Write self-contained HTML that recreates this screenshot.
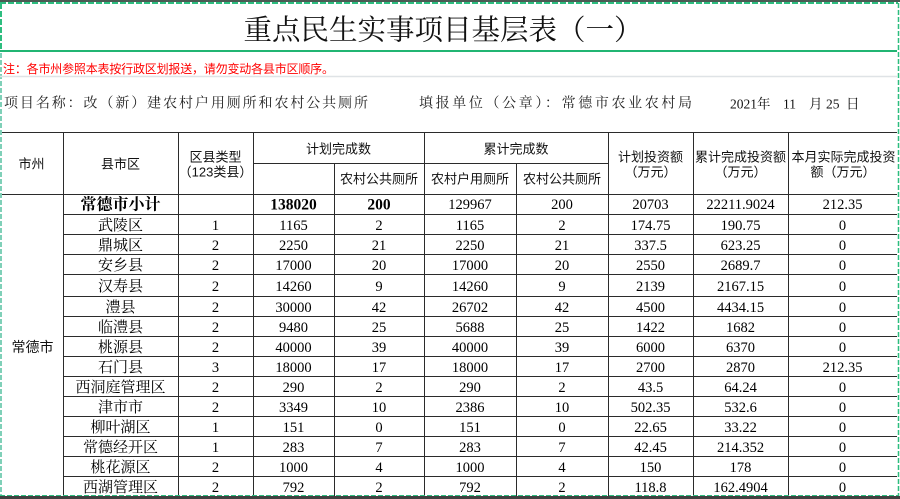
<!DOCTYPE html>
<html>
<head>
<meta charset="utf-8">
<style>
html,body{margin:0;padding:0;background:#fff;}
svg{display:block;}
.serif{font-family:"Liberation Serif","Noto Serif CJK SC",serif;}
.sans{font-family:"Liberation Sans","Noto Sans CJK SC",sans-serif;}
.h{font-size:13px;fill:#111;}
.d{font-size:15px;fill:#000;}
.n{font-size:14.5px;fill:#000;}
</style>
</head>
<body>
<svg width="900" height="499" viewBox="0 0 900 499" xmlns="http://www.w3.org/2000/svg">
<rect x="0" y="0" width="900" height="499" fill="#fff"/>
<!-- top bar -->
<rect x="0" y="0" width="900" height="2" fill="#4b5b54"/>
<line x1="0" y1="3" x2="898" y2="3" stroke="#2dbd7f" stroke-width="2" stroke-dasharray="6,2"/>
<line x1="1" y1="3" x2="1" y2="50" stroke="#2dbd7f" stroke-width="2" stroke-dasharray="6,2"/>
<line x1="898.5" y1="3" x2="898.5" y2="496" stroke="#2dbd7f" stroke-width="1.5" stroke-dasharray="5,2"/>
<!-- green solid line under title -->
<rect x="0" y="50" width="897" height="2" fill="#21b573"/>
<!-- left teal dashed -->
<line x1="1" y1="53" x2="1" y2="496" stroke="#7fd0b8" stroke-width="2" stroke-dasharray="5,2"/>

<!-- title -->
<text x="443" y="31" class="serif" font-size="28.5" fill="#111" text-anchor="middle" dominant-baseline="central">重点民生实事项目基层表（一）</text>

<!-- red note -->
<text x="3" y="69" class="sans" font-size="12" fill="#ff0000" dominant-baseline="central" textLength="331" lengthAdjust="spacing">注：各市州参照本表按行政区划报送，请勿变动各县市区顺序。</text>
<line x1="0" y1="76.5" x2="897" y2="76.5" stroke="#dfe3e6" stroke-width="1.5"/>

<!-- project row -->
<text x="4" y="104" class="serif" font-size="14" fill="#222" dominant-baseline="central" textLength="364" lengthAdjust="spacing">项目名称：改（新）建农村户用厕所和农村公共厕所</text>
<text x="419" y="104" class="serif" font-size="14" fill="#222" dominant-baseline="central" textLength="273" lengthAdjust="spacing">填报单位（公章）：常德市农业农村局</text>
<text x="730" y="104" class="serif" font-size="13.5" fill="#111" dominant-baseline="central">2021年</text>
<text x="783" y="104" class="serif" font-size="13.5" fill="#111" dominant-baseline="central">11</text>
<text x="809" y="104" class="serif" font-size="13.5" fill="#111" dominant-baseline="central">月</text>
<text x="826" y="104" class="serif" font-size="13.5" fill="#111" dominant-baseline="central">25</text>
<text x="846" y="104" class="serif" font-size="13.5" fill="#111" dominant-baseline="central">日</text>

<!-- table lines -->
<g stroke="#2b2b2b" stroke-width="1">
<line x1="2" y1="132.5" x2="897" y2="132.5"/>
<line x1="253" y1="163.5" x2="608" y2="163.5"/>
<line x1="2" y1="194.5" x2="897" y2="194.5"/>
<line x1="63" y1="214.5" x2="897" y2="214.5"/>
<line x1="63" y1="234.5" x2="897" y2="234.5"/>
<line x1="63" y1="254.5" x2="897" y2="254.5"/>
<line x1="63" y1="274.5" x2="897" y2="274.5"/>
<line x1="63" y1="296.5" x2="897" y2="296.5"/>
<line x1="63" y1="316.5" x2="897" y2="316.5"/>
<line x1="63" y1="336.5" x2="897" y2="336.5"/>
<line x1="63" y1="356.5" x2="897" y2="356.5"/>
<line x1="63" y1="376.5" x2="897" y2="376.5"/>
<line x1="63" y1="396.5" x2="897" y2="396.5"/>
<line x1="63" y1="416.5" x2="897" y2="416.5"/>
<line x1="63" y1="436.5" x2="897" y2="436.5"/>
<line x1="63" y1="456.5" x2="897" y2="456.5"/>
<line x1="63" y1="476.5" x2="897" y2="476.5"/>
<line x1="63.5" y1="132" x2="63.5" y2="496"/>
<line x1="178.5" y1="132" x2="178.5" y2="496"/>
<line x1="253.5" y1="132" x2="253.5" y2="496"/>
<line x1="334.5" y1="163" x2="334.5" y2="496"/>
<line x1="424.5" y1="132" x2="424.5" y2="496"/>
<line x1="516.5" y1="163" x2="516.5" y2="496"/>
<line x1="608.5" y1="132" x2="608.5" y2="496"/>
<line x1="693.5" y1="132" x2="693.5" y2="496"/>
<line x1="788.5" y1="132" x2="788.5" y2="496"/>
</g>

<!-- header text -->
<g class="sans h" text-anchor="middle" dominant-baseline="central">
<text x="31.5" y="164">市州</text>
<text x="120.5" y="164">县市区</text>
<text x="215.5" y="157">区县类型</text>
<text x="215.5" y="172">（123类县）</text>
<text x="338.5" y="149">计划完成数</text>
<text x="516" y="149">累计完成数</text>
<text x="379" y="179">农村公共厕所</text>
<text x="470" y="179">农村户用厕所</text>
<text x="562" y="179">农村公共厕所</text>
<text x="650.5" y="157">计划投资额</text>
<text x="650.5" y="172">（万元）</text>
<text x="740.5" y="157">累计完成投资额</text>
<text x="740.5" y="172">（万元）</text>
<text x="843.5" y="157">本月实际完成投资</text>
<text x="843" y="172">额（万元）</text>
</g>

<text x="32.5" y="347" class="sans" font-size="14" fill="#111" text-anchor="middle" dominant-baseline="central">常德市</text>

<!-- subtotal row -->
<g text-anchor="middle" dominant-baseline="central">
<text x="120.5" y="205" class="serif" font-size="16" font-weight="bold">常德市小计</text>
<text x="293.5" y="205" class="serif" font-size="15.5" font-weight="bold">138020</text>
<text x="379" y="205" class="serif" font-size="15.5" font-weight="bold">200</text>
<text x="470" y="205" class="serif n">129967</text>
<text x="562" y="205" class="serif n">200</text>
<text x="650.5" y="205" class="serif n">20703</text>
<text x="740.5" y="205" class="serif n">22211.9024</text>
<text x="842.5" y="205" class="serif n">212.35</text>
</g>

<!-- data rows -->
<g class="serif" text-anchor="middle" dominant-baseline="central">
<g transform="translate(0,226)">
<text x="120.5" class="d">武陵区</text><text x="215.5" class="n">1</text><text x="293.5" class="n">1165</text><text x="379" class="n">2</text><text x="470" class="n">1165</text><text x="562" class="n">2</text><text x="650.5" class="n">174.75</text><text x="740.5" class="n">190.75</text><text x="842.5" class="n">0</text>
</g>
<g transform="translate(0,246)">
<text x="120.5" class="d">鼎城区</text><text x="215.5" class="n">2</text><text x="293.5" class="n">2250</text><text x="379" class="n">21</text><text x="470" class="n">2250</text><text x="562" class="n">21</text><text x="650.5" class="n">337.5</text><text x="740.5" class="n">623.25</text><text x="842.5" class="n">0</text>
</g>
<g transform="translate(0,266)">
<text x="120.5" class="d">安乡县</text><text x="215.5" class="n">2</text><text x="293.5" class="n">17000</text><text x="379" class="n">20</text><text x="470" class="n">17000</text><text x="562" class="n">20</text><text x="650.5" class="n">2550</text><text x="740.5" class="n">2689.7</text><text x="842.5" class="n">0</text>
</g>
<g transform="translate(0,287)">
<text x="120.5" class="d">汉寿县</text><text x="215.5" class="n">2</text><text x="293.5" class="n">14260</text><text x="379" class="n">9</text><text x="470" class="n">14260</text><text x="562" class="n">9</text><text x="650.5" class="n">2139</text><text x="740.5" class="n">2167.15</text><text x="842.5" class="n">0</text>
</g>
<g transform="translate(0,308)">
<text x="120.5" class="d">澧县</text><text x="215.5" class="n">2</text><text x="293.5" class="n">30000</text><text x="379" class="n">42</text><text x="470" class="n">26702</text><text x="562" class="n">42</text><text x="650.5" class="n">4500</text><text x="740.5" class="n">4434.15</text><text x="842.5" class="n">0</text>
</g>
<g transform="translate(0,328)">
<text x="120.5" class="d">临澧县</text><text x="215.5" class="n">2</text><text x="293.5" class="n">9480</text><text x="379" class="n">25</text><text x="470" class="n">5688</text><text x="562" class="n">25</text><text x="650.5" class="n">1422</text><text x="740.5" class="n">1682</text><text x="842.5" class="n">0</text>
</g>
<g transform="translate(0,348)">
<text x="120.5" class="d">桃源县</text><text x="215.5" class="n">2</text><text x="293.5" class="n">40000</text><text x="379" class="n">39</text><text x="470" class="n">40000</text><text x="562" class="n">39</text><text x="650.5" class="n">6000</text><text x="740.5" class="n">6370</text><text x="842.5" class="n">0</text>
</g>
<g transform="translate(0,368)">
<text x="120.5" class="d">石门县</text><text x="215.5" class="n">3</text><text x="293.5" class="n">18000</text><text x="379" class="n">17</text><text x="470" class="n">18000</text><text x="562" class="n">17</text><text x="650.5" class="n">2700</text><text x="740.5" class="n">2870</text><text x="842.5" class="n">212.35</text>
</g>
<g transform="translate(0,388)">
<text x="120.5" class="d">西洞庭管理区</text><text x="215.5" class="n">2</text><text x="293.5" class="n">290</text><text x="379" class="n">2</text><text x="470" class="n">290</text><text x="562" class="n">2</text><text x="650.5" class="n">43.5</text><text x="740.5" class="n">64.24</text><text x="842.5" class="n">0</text>
</g>
<g transform="translate(0,408)">
<text x="120.5" class="d">津市市</text><text x="215.5" class="n">2</text><text x="293.5" class="n">3349</text><text x="379" class="n">10</text><text x="470" class="n">2386</text><text x="562" class="n">10</text><text x="650.5" class="n">502.35</text><text x="740.5" class="n">532.6</text><text x="842.5" class="n">0</text>
</g>
<g transform="translate(0,428)">
<text x="120.5" class="d">柳叶湖区</text><text x="215.5" class="n">1</text><text x="293.5" class="n">151</text><text x="379" class="n">0</text><text x="470" class="n">151</text><text x="562" class="n">0</text><text x="650.5" class="n">22.65</text><text x="740.5" class="n">33.22</text><text x="842.5" class="n">0</text>
</g>
<g transform="translate(0,448)">
<text x="120.5" class="d">常德经开区</text><text x="215.5" class="n">1</text><text x="293.5" class="n">283</text><text x="379" class="n">7</text><text x="470" class="n">283</text><text x="562" class="n">7</text><text x="650.5" class="n">42.45</text><text x="740.5" class="n">214.352</text><text x="842.5" class="n">0</text>
</g>
<g transform="translate(0,468)">
<text x="120.5" class="d">桃花源区</text><text x="215.5" class="n">2</text><text x="293.5" class="n">1000</text><text x="379" class="n">4</text><text x="470" class="n">1000</text><text x="562" class="n">4</text><text x="650.5" class="n">150</text><text x="740.5" class="n">178</text><text x="842.5" class="n">0</text>
</g>
<g transform="translate(0,488)">
<text x="120.5" class="d">西湖管理区</text><text x="215.5" class="n">2</text><text x="293.5" class="n">792</text><text x="379" class="n">2</text><text x="470" class="n">792</text><text x="562" class="n">2</text><text x="650.5" class="n">118.8</text><text x="740.5" class="n">162.4904</text><text x="842.5" class="n">0</text>
</g>
</g>
<!-- bottom -->
<line x1="0" y1="495.5" x2="898" y2="495.5" stroke="#2dbd7f" stroke-width="1" stroke-dasharray="5,2"/>
<rect x="0" y="496" width="900" height="3" fill="#404040"/>
</svg>
</body>
</html>
